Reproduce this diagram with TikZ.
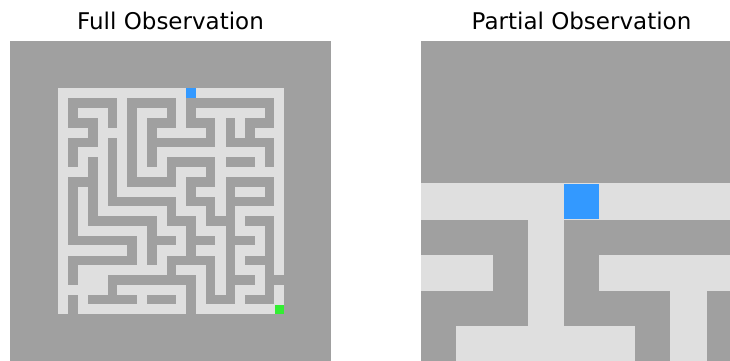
\documentclass[tikz,border=0pt]{standalone}
\usepackage{fontspec}
\setmainfont{DejaVu Sans}
\definecolor{wallgray}{RGB}{160,160,160}
\definecolor{floorgray}{RGB}{223,223,223}
\definecolor{agentblue}{RGB}{51,153,255}
\definecolor{goalgreen}{RGB}{51,238,51}

% maze rows: x = wall, - = floor
\newcommand\mazelines{%
  -----------------------,
  -xxxxx-xxxxx-xxxxxxxxx-,
  -x---x-x---x-x-------x-,
  -xxx-x-x-xxx-xxx-x-xxx-,
  ---x---x-x-----x-x-x---,
  -xxx-x-x-xxxxxxx-xxxxx-,
  -x---x-x-x-----------x-,
  -x-x-x-x-x-xxxxx-xxx-x-,
  ---x-x-x---x---x-------,
  -xxx-x-xxxxx-xxx-xxxxx-,
  -x-x-x-------x---x---x-,
  -x-x-xxxxxxx-xxx-xxxxx-,
  -x-x-------x---x-x-----,
  -x-xxxxxxx-xxx-xxx-xxx-,
  -x-------x---x---x---x-,
  -xxxxxxx-xxx-xxx-xxx-x-,
  -------x-x---x---x---x-,
  -xxxxxxx-x-xxxxx-x-xxx-,
  -x---------x---x-x---x-,
  -x---xxxxxxxxx-x-xxx-xx,
  -----x-------x-x-x---x-,
  -x-xxxxx-xxx-x-xxx-xxx-,
  -x-----------x---------}
\def\mazescan#1{%
  \ifx#1\relax\else
    \if#1-\fill[floorgray] (\mazecol-0.01,\r-0.01) rectangle ++(1.02,1.02);\fi
    \pgfmathtruncatemacro\mazecol{\mazecol+1}%
    \expandafter\mazescan
  \fi}
\newcommand\drawmaze{%
  \foreach \rowtxt [count=\r from 0] in \mazelines {%
    \def\mazecol{0}\expandafter\mazescan\rowtxt\relax}
  \fill[agentblue] (13,0) rectangle ++(1,1);
  \fill[goalgreen] (22,22) rectangle ++(1,1);}

\begin{document}
\begin{tikzpicture}[x=1pt, y=-1pt,
    paneltitle/.style={anchor=base, font=\fontsize{23}{26}\selectfont}]
  \useasboundingbox (0,0) rectangle (730,360);
  \node[paneltitle] (fulltitle) at (170.5,29.5) {Full Observation};
  \node[paneltitle] (parttitle) at (581.5,29.5) {Partial Observation};

  % full view
  \fill[wallgray] (10,41) rectangle (331,362);
  \begin{scope}[shift={(58.3pt,-88.3pt)}, x=9.83pt, y=-9.83pt]
    \drawmaze
  \end{scope}

  % partial view, 9x9 cells round the agent
  \fill[wallgray] (421,41) rectangle (742,362);
  \begin{scope}
    \clip (421,41) rectangle (742,362);
    \begin{scope}[shift={(100pt,-183.7pt)}, x=35.67pt, y=-35.67pt]
      \drawmaze
    \end{scope}
  \end{scope}
\end{tikzpicture}
\end{document}
